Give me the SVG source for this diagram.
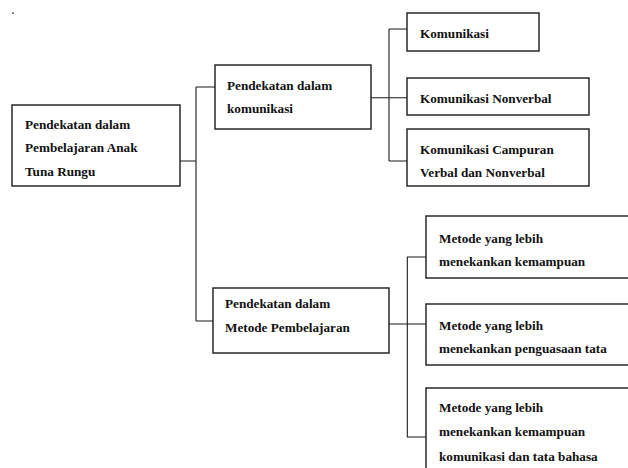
<svg xmlns="http://www.w3.org/2000/svg" width="628" height="468" viewBox="0 0 628 468">
<style>
.box{fill:#fff;stroke:#1a1a1a;stroke-width:1.4}
.t{font-family:"Liberation Serif","Times New Roman",serif;font-weight:bold;font-size:13.2px;fill:#111}
.c{stroke:#1a1a1a;stroke-width:1.1;fill:none}
</style>
<rect x="12" y="12.5" width="2" height="1.2" fill="#333"/>
<g id="connectors">
<path class="c" d="M180 161H196M196 87V321M196 87H215M196 321H213"/>
<path class="c" d="M371 97.7H407M389 29V161M389 29H407M389 161H407"/>
<path class="c" d="M389 324H426M407.3 257V437M407 257H426M407 437H426"/>
</g>
<g id="root">
<rect class="box" x="12" y="105" width="168" height="81"/>
<text class="t" x="25" y="129">Pendekatan dalam</text>
<text class="t" x="25" y="152">Pembelajaran Anak</text>
<text class="t" x="25" y="176">Tuna Rungu</text>
</g>
<g id="komunikasi">
<rect class="box" x="215" y="65" width="156" height="64"/>
<text class="t" x="227" y="90">Pendekatan dalam</text>
<text class="t" x="227" y="113">komunikasi</text>
</g>
<g id="metode">
<rect class="box" x="213" y="288" width="176" height="65"/>
<text class="t" x="225" y="308">Pendekatan dalam</text>
<text class="t" x="225" y="332">Metode Pembelajaran</text>
</g>
<g id="k1">
<rect class="box" x="407" y="13" width="132" height="38"/>
<text class="t" x="420" y="38">Komunikasi</text>
</g>
<g id="k2">
<rect class="box" x="407" y="78" width="182" height="37"/>
<text class="t" x="420" y="103">Komunikasi Nonverbal</text>
</g>
<g id="k3">
<rect class="box" x="407" y="129" width="182" height="57"/>
<text class="t" x="420" y="154">Komunikasi Campuran</text>
<text class="t" x="420" y="177">Verbal dan Nonverbal</text>
</g>
<g id="m1">
<rect class="box" x="426" y="216" width="220" height="62"/>
<text class="t" x="439" y="243">Metode yang lebih</text>
<text class="t" x="439" y="266">menekankan kemampuan</text>
</g>
<g id="m2">
<rect class="box" x="426" y="304" width="220" height="61"/>
<text class="t" x="439" y="330">Metode yang lebih</text>
<text class="t" x="439" y="353">menekankan penguasaan tata</text>
</g>
<g id="m3">
<rect class="box" x="426" y="388" width="220" height="100"/>
<text class="t" x="439" y="412">Metode yang lebih</text>
<text class="t" x="439" y="436">menekankan kemampuan</text>
<text class="t" x="439" y="461">komunikasi dan tata bahasa</text>
</g>
</svg>
